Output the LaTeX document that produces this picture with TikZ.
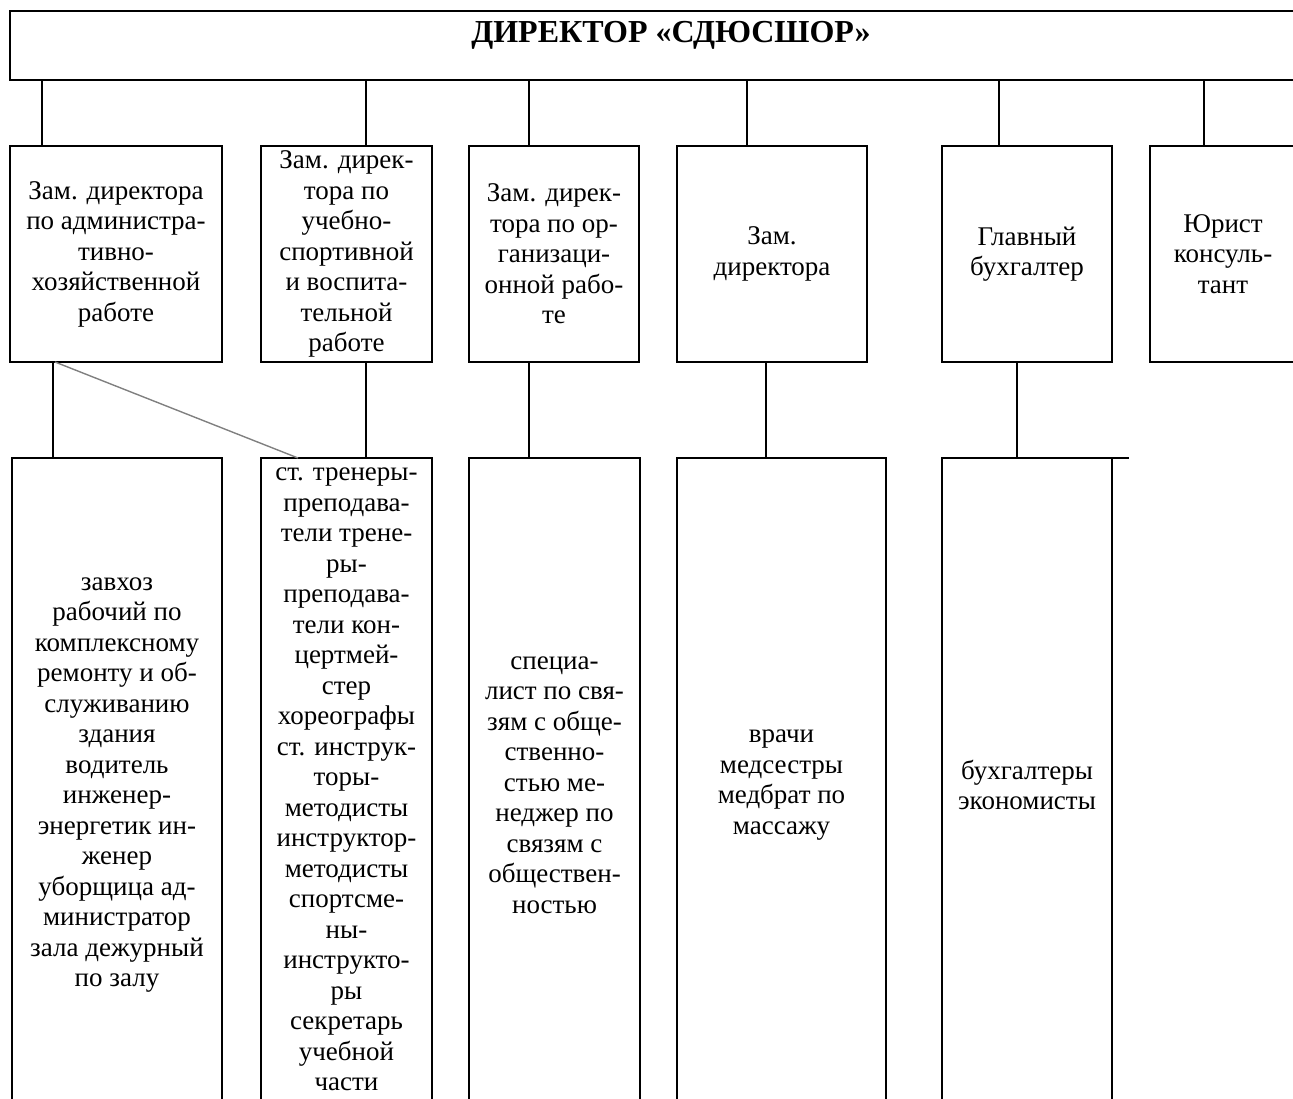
\documentclass[tikz,border=0pt]{standalone}
\usepackage{fontspec}
\setmainfont{Liberation Serif}
\definecolor{linkgray}{RGB}{128, 128, 128}
\usetikzlibrary{positioning, calc}

\begin{document}
\begin{tikzpicture}[x=1pt, y=-1pt,
  dirbox/.style={draw, line width=2.9pt, inner sep=0pt, outer sep=0pt, anchor=north west},
  headbox/.style={draw, line width=2.9pt, inner sep=0pt, outer sep=0pt, anchor=north west, minimum height=216pt, align=center, font=\fontsize{27}{30.5}\selectfont},
  staffbox/.style={draw, line width=1.9pt, inner sep=0pt, outer sep=0pt, anchor=north west, minimum height=654pt, align=center, font=\fontsize{27}{30.5}\selectfont},
  link/.style={line width=1.7pt}]
  \useasboundingbox (0,0) rectangle (1293,1099);
  \clip (0,0) rectangle (1293,1099);

  \node[dirbox, minimum width=1322pt, minimum height=69pt] (dir) at (10,11) {};
  \node[font=\fontsize{32}{36}\selectfont\bfseries, anchor=base] (dirtitle) at ([yshift=-32pt]dir.north) {ДИРЕКТОР «СДЮСШОР»};

  \node[headbox, minimum width=212pt] (zam1) at (10,146) {Зам. директора\\по администра-\\тивно-\\хозяйственной\\работе};
  \node[headbox, minimum width=171pt] (zam2) at (261,146) {Зам. дирек-\\тора по\\учебно-\\спортивной\\и воспита-\\тельной\\работе};
  \node[headbox, minimum width=170pt] (zam3) at (469,146) {Зам. дирек-\\тора по ор-\\ганизаци-\\онной рабо-\\те};
  \node[headbox, minimum width=190pt] (zam4) at (677,146) {Зам.\\директора};
  \node[headbox, minimum width=170pt] (zam5) at (942,146) {Главный\\бухгалтер};
  \node[headbox, minimum width=146pt] (zam6) at (1150,146) {Юрист\\консуль-\\тант};

  \node[staffbox, minimum width=210pt] (low1) at (12,458) {завхоз\\рабочий по\\комплексному\\ремонту и об-\\служиванию\\здания\\водитель\\инженер-\\энергетик ин-\\женер\\уборщица ад-\\министратор\\зала дежурный\\по залу};
  \node[staffbox, minimum width=171pt, minimum height=643pt] (low2) at (261,458) {ст. тренеры-\\преподава-\\тели трене-\\ры-\\преподава-\\тели кон-\\цертмей-\\стер\\хореографы\\ст. инструк-\\торы-\\методисты\\инструктор-\\методисты\\спортсме-\\ны-\\инструкто-\\ры\\секретарь\\учебной\\части};
  \node[staffbox, minimum width=171pt] (low3) at (469,458) {специа-\\лист по свя-\\зям с обще-\\ственно-\\стью ме-\\неджер по\\связям с\\обществен-\\ностью};
  \node[staffbox, minimum width=209pt] (low4) at (677,458) {врачи\\медсестры\\медбрат по\\массажу};
  \node[staffbox, minimum width=170pt] (low5) at (942,458) {бухгалтеры\\экономисты};
  \coordinate (stubend) at (1129,458);

  \foreach \n/\x in {zam1/42, zam2/366, zam3/529, zam4/747, zam5/999, zam6/1204} {
    \draw[link] (\x,0 |- dir.south) -- (\x,0 |- \n.north);
  }
  \foreach \n/\m/\x in {zam1/low1/53, zam2/low2/366, zam3/low3/529, zam4/low4/766, zam5/low5/1017} {
    \draw[link] (\x,0 |- \n.south) -- (\x,0 |- \m.north);
  }
  \draw[linkgray, line width=1.4pt] ([xshift=45pt]zam1.south west) -- ([xshift=37pt]low2.north west);
  \draw[line width=1.9pt] (low5.north east) -- (stubend);
\end{tikzpicture}
\end{document}
